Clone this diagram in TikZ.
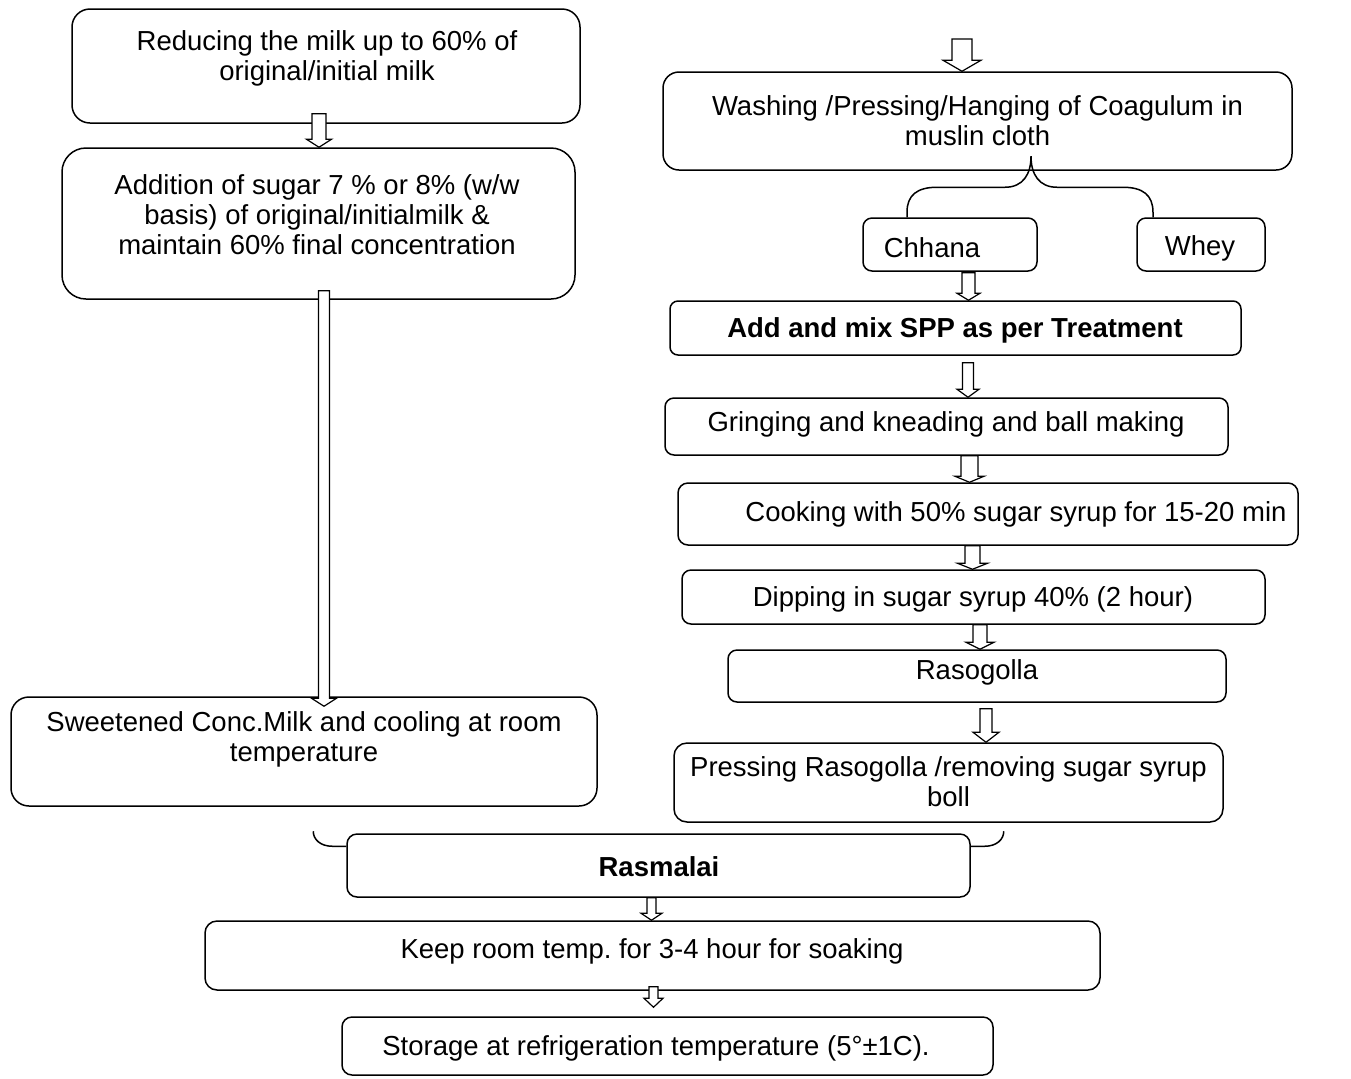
\documentclass[tikz,border=0pt]{standalone}
\usepackage{fontspec}
\setmainfont{Liberation Sans}
\usetikzlibrary{calc}
\frenchspacing

% hollow block arrow between two points on one vertical
\newcommand\blockdown[5]{%
  \draw[blockarrow] ($(#1)+(-#3,0)$) -- ($(#2)+(-#3,-#5)$) -- ($(#2)+(-#4,-#5)$) -- (#2)
    -- ($(#2)+(#4,-#5)$) -- ($(#2)+(#3,-#5)$) -- ($(#1)+(#3,0)$) -- cycle;}

\begin{document}
\begin{tikzpicture}[x=0.5pt, y=-0.5pt,
    flowbox/.style={draw, line width=0.75pt, inner sep=0pt},
    flowtext/.style={font=\fontsize{13.75}{15}\selectfont, align=center, inner sep=0pt, yshift=-1pt},
    blockarrow/.style={draw, fill=white, line width=0.6pt, line join=miter},
    bracket/.style={draw, line width=0.75pt}]

    \useasboundingbox (0,0) rectangle (1351,1078);

    % Left branch boxes
    \node[flowbox, rounded corners=9pt, minimum width=254pt, minimum height=57pt] (redA) at (326,66) {};
    \node[flowbox, rounded corners=12pt, minimum width=256.5pt, minimum height=75.5pt] (sugarB) at (318.5,223.5) {};
    \node[flowbox, rounded corners=9pt, minimum width=293pt, minimum height=54.5pt] (sweetC) at (304,751.5) {};

    % Right branch boxes
    \node[flowbox, rounded corners=8pt, minimum width=314.5pt, minimum height=49pt] (washD) at (977.5,121) {};
    \node[flowbox, rounded corners=4.5pt, minimum width=87pt, minimum height=26.5pt] (chhana) at (950,244.5) {};
    \node[flowbox, rounded corners=4.5pt, minimum width=64pt, minimum height=26.5pt] (whey) at (1201,244.5) {};
    \node[flowbox, rounded corners=4pt, minimum width=285.5pt, minimum height=27pt] (spp) at (955.5,328) {};
    \node[flowbox, rounded corners=4.5pt, minimum width=281.5pt, minimum height=28.5pt] (grind) at (946.5,426.5) {};
    \node[flowbox, rounded corners=5pt, minimum width=310pt, minimum height=31pt] (cook) at (988,514) {};
    \node[flowbox, rounded corners=4.5pt, minimum width=291.5pt, minimum height=27pt] (dip) at (973.5,597) {};
    \node[flowbox, rounded corners=4.5pt, minimum width=249pt, minimum height=26pt] (raso) at (977,676) {};
    \node[flowbox, rounded corners=6.5pt, minimum width=274.5pt, minimum height=39.5pt] (press) at (948.5,782.5) {};

    % Joint part
    \node[flowbox, rounded corners=5pt, minimum width=311.5pt, minimum height=31.5pt] (rasmalai) at (658.5,865.5) {};
    \node[flowbox, rounded corners=6pt, minimum width=447.5pt, minimum height=34.5pt] (keep) at (652.5,955.5) {};
    \node[flowbox, rounded corners=5pt, minimum width=325.5pt, minimum height=29pt] (store) at (667.5,1046) {};

    % Texts
    \node[flowtext] (redAtxt) at (327,56) {Reducing the milk up to 60\% of\\original/initial milk};
    \node[flowtext] (sugarBtxt) at (317,212.5) {Addition of sugar 7 \% or 8\% (w/w\\basis) of original/initialmilk \&\\maintain 60\% final concentration};
    \node[flowtext] (sweetCtxt) at (304,737) {Sweetened Conc.Milk and cooling at room\\temperature};
    \node[flowtext] (washDtxt) at (977.5,119) {Washing /Pressing/Hanging of Coagulum in\\muslin cloth};
    \node[flowtext] (chhanatxt) at (932,246) {Chhana};
    \node[flowtext] (wheytxt) at (1200,246) {Whey};
    \node[flowtext, font=\fontsize{13.75}{15}\selectfont\bfseries] (spptxt) at (955,328) {Add and mix SPP as per Treatment};
    \node[flowtext] (grindtxt) at (946,422) {Gringing and kneading and ball making};
    \node[flowtext] (cooktxt) at (1016,512) {Cooking with 50\% sugar syrup for 15-20 min};
    \node[flowtext] (diptxt) at (973,597) {Dipping in sugar syrup 40\% (2 hour)};
    \node[flowtext] (rasotxt) at (977,670) {Rasogolla};
    \node[flowtext] (presstxt) at (948.5,780) {Pressing Rasogolla /removing sugar syrup\\boll};
    \node[flowtext, font=\fontsize{13.75}{15}\selectfont\bfseries] (rasmalaitxt) at (659,865) {Rasmalai};
    \node[flowtext] (keeptxt) at (652,949) {Keep room temp. for 3-4 hour for soaking};
    \node[flowtext] (storetxt) at (656,1046) {Storage at refrigeration temperature (5°±1C).};

    % Arrow start points
    \coordinate (washin) at (962,39);
    \coordinate (s1) at ($(redA.south)+(-7,-10)$);
    \coordinate (s2) at ($(sugarB.south)+(5.5,-9)$);
    \coordinate (t2) at ($(s2 |- sweetC.north)+(0,10)$);
    \coordinate (s3) at ($(chhana.south)+(18.5,1)$);
    \coordinate (s4) at ($(spp.south)+(12.5,7)$);
    \coordinate (s5) at ($(grind.south)+(23,0)$);
    \coordinate (s6) at ($(cook.south)+(-15.5,0)$);
    \coordinate (s7) at ($(dip.south)+(6.5,0)$);
    \coordinate (s8) at ($(raso.south)+(9,6)$);
    \coordinate (s9) at ($(rasmalai.south)+(-7,0)$);
    \coordinate (s10) at ($(keep.south)+(1,-4)$);
    \coordinate (t10) at ($(s10 |- store.north)+(0,-9)$);

    % Block arrows
    \blockdown{washin}{washin |- washD.north}{10}{19}{11}
    \blockdown{s1}{s1 |- sugarB.north}{7}{12.5}{8}
    \blockdown{s2}{t2}{5.5}{12.5}{8}
    \blockdown{s3}{s3 |- spp.north}{6.5}{11.5}{7}
    \blockdown{s4}{s4 |- grind.north}{5.5}{11}{8}
    \blockdown{s5}{s5 |- cook.north}{8.5}{14.5}{6}
    \blockdown{s6}{s6 |- dip.north}{7.5}{15}{6}
    \blockdown{s7}{s7 |- raso.north}{7}{14}{7}
    \blockdown{s8}{s8 |- press.north}{6}{13}{10}
    \blockdown{s9}{s9 |- keep.north}{4.5}{10.5}{7}
    \blockdown{s10}{t10}{4.5}{9.5}{9}

    % Brace splitting the coagulum
    \draw[bracket] ($(chhana.north)+(-43,0)$) -- ++(0,-5)
        .. controls +(0,-17) and +(-20,0) .. ++(30,-25) -- ++(68,0)
        .. controls +(18,0) and +(0,18) .. ++(26,-31)
        .. controls +(0,18) and +(-18,0) .. ++(26,31) -- ++(66,0)
        .. controls +(20,0) and +(0,-17) .. ++(30,25) -- ++(0,5);

    % Brace joining both branches
    \draw[bracket] ($(rasmalai.north west)+(0,13)$) -- ++(-14,0)
        .. controls +(-12,0) and +(0,8) .. ++(-19,-15);
    \draw[bracket] ($(rasmalai.north east)+(0,13)$) -- ++(14,0)
        .. controls +(12,0) and +(0,8) .. ++(19,-15);

\end{tikzpicture}
\end{document}
